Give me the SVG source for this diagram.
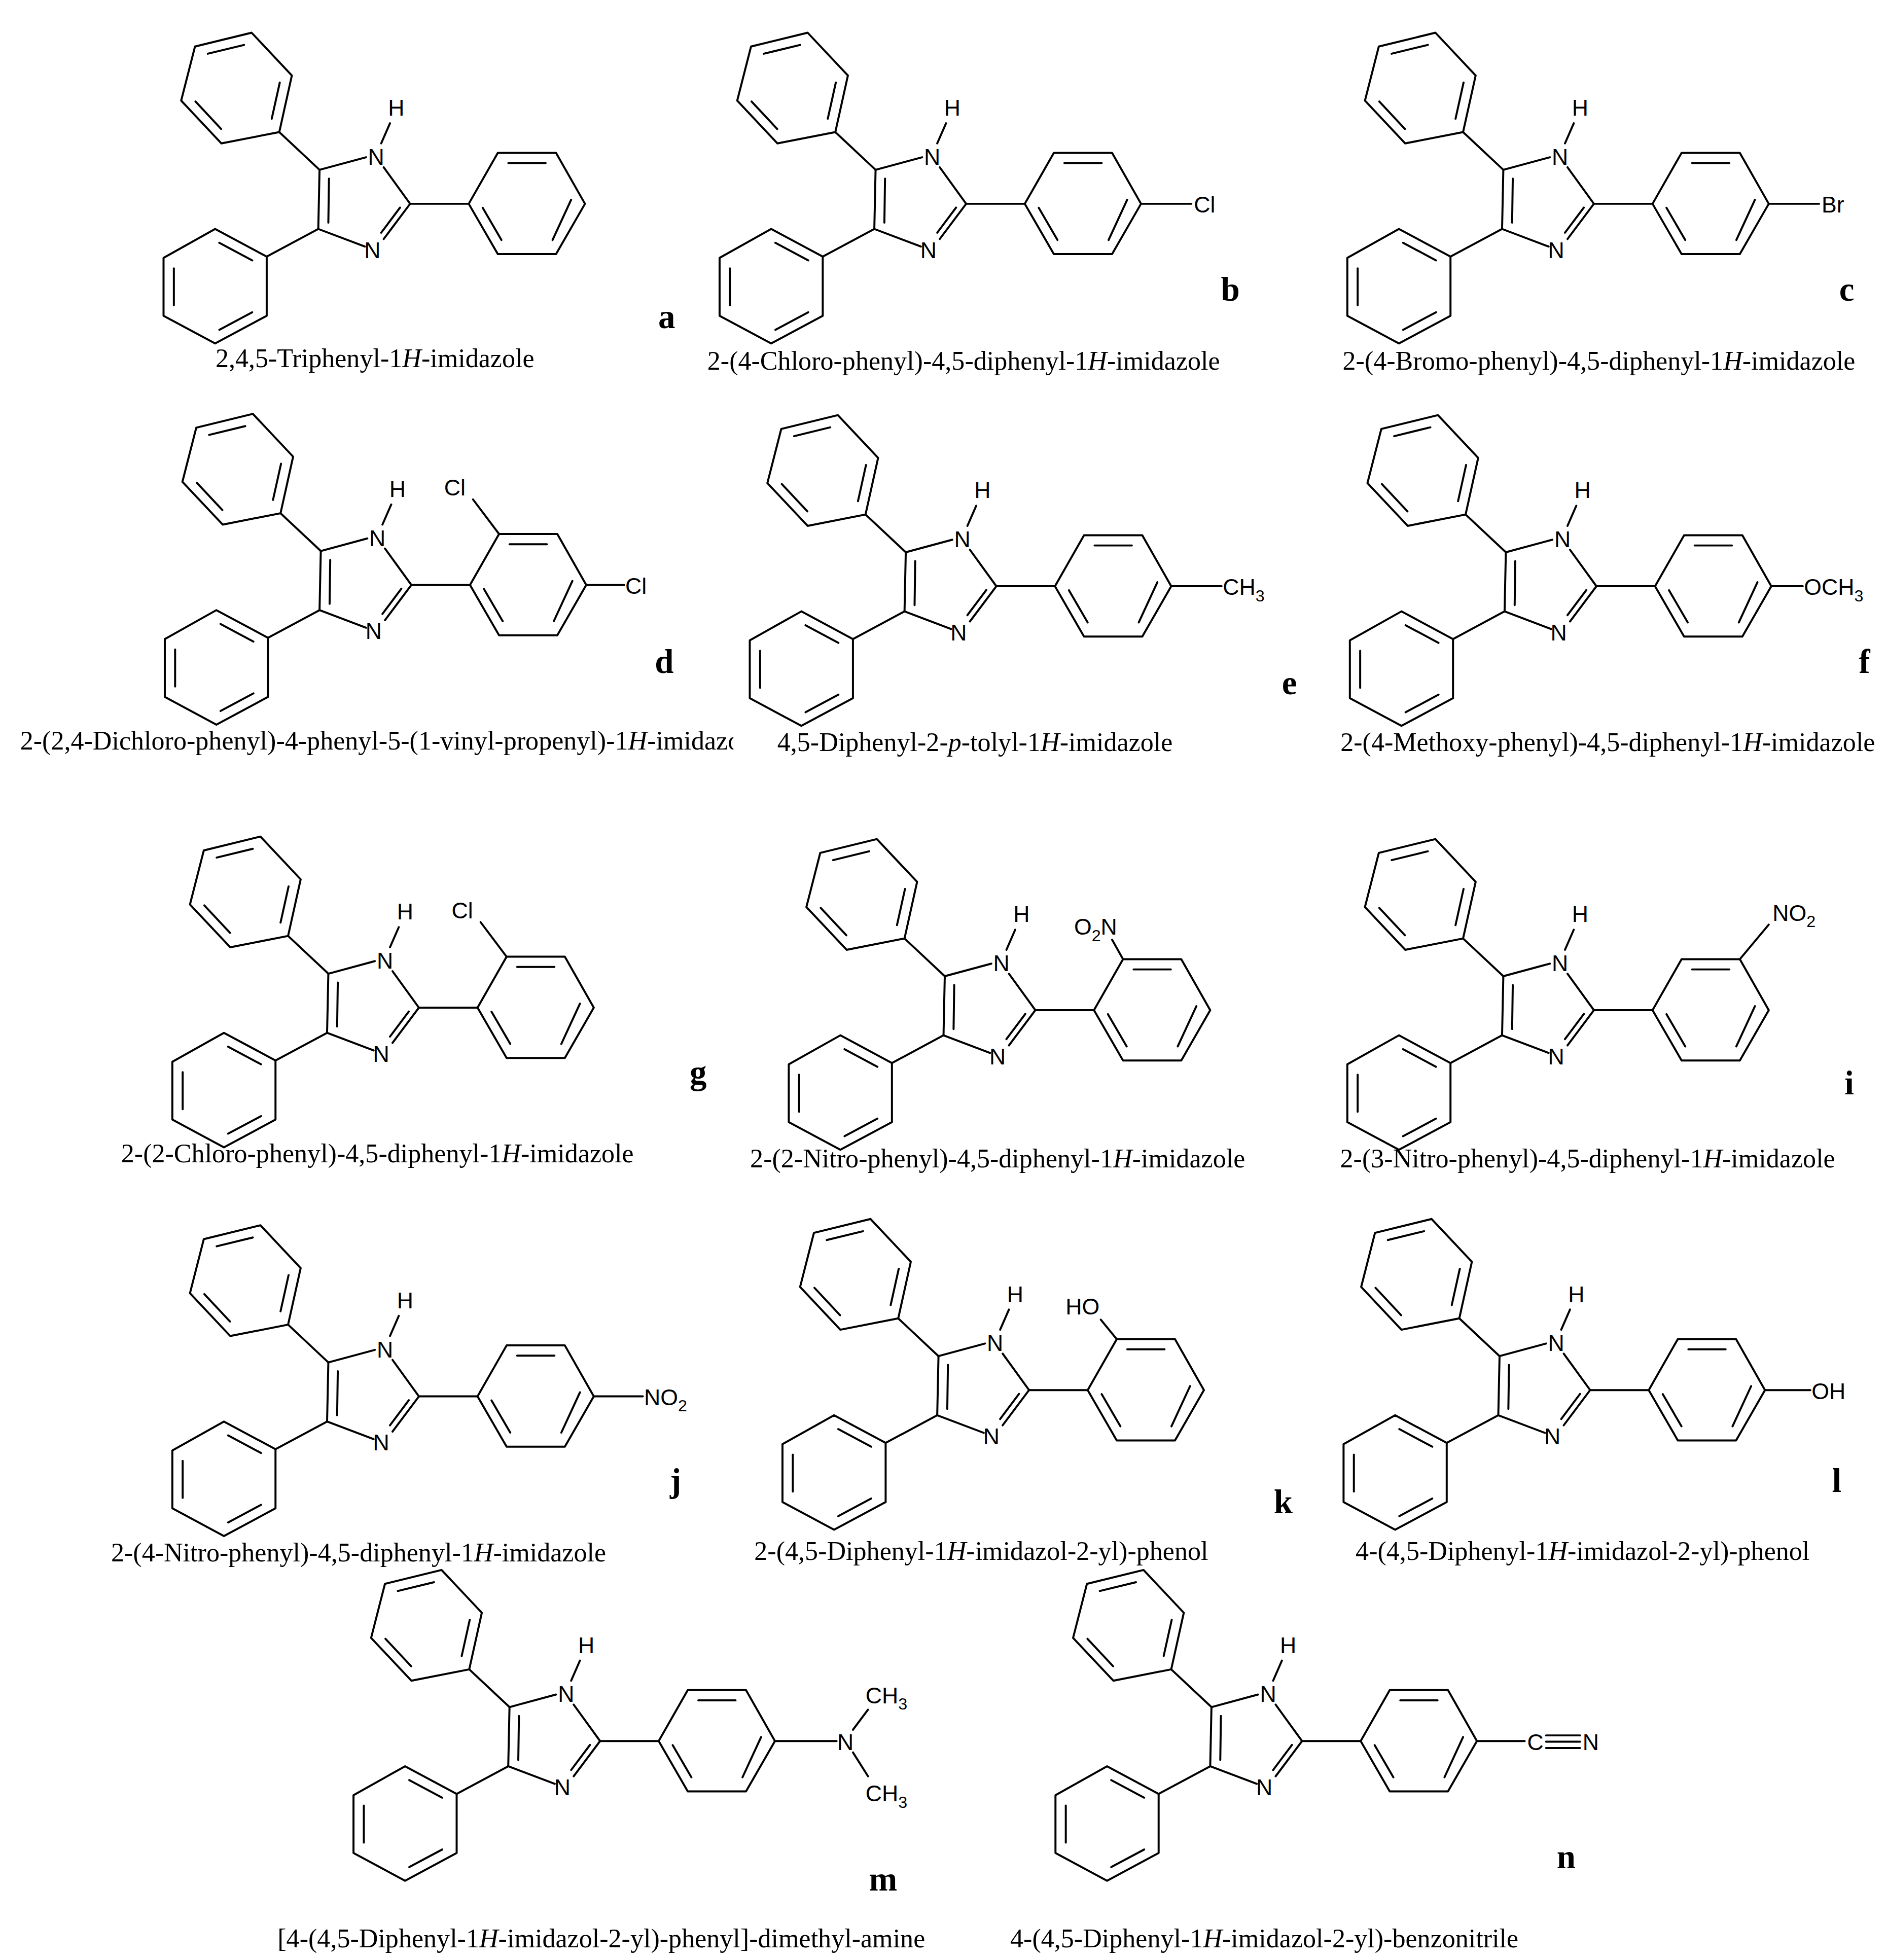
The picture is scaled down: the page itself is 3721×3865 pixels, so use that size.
<svg xmlns="http://www.w3.org/2000/svg" xmlns:xlink="http://www.w3.org/1999/xlink" width="3721" height="3865" viewBox="0 0 3721 3865">
<style>
.b{stroke:#000;stroke-width:1.6;fill:none;stroke-linecap:round;stroke-linejoin:round}
.at{font-family:"Liberation Sans",Arial,sans-serif;font-size:18px;fill:#000}
.sub{font-size:13px}
.nm{font-family:"Liberation Serif","Times New Roman",serif;font-size:21px;fill:#000;text-anchor:middle}
.lt{font-family:"Liberation Serif","Times New Roman",serif;font-size:27px;font-weight:bold;fill:#000;text-anchor:middle}
</style>
<defs>
<g id="core">
<polyline class="b" points="-68,-57 -114,-48 -146,-82 -135,-125 -90,-136 -58,-102 -68,-57"/>
<line class="b" x1="-114.2" y1="-59.5" x2="-134.6" y2="-81.3"/>
<line class="b" x1="-124.8" y1="-119.3" x2="-96" y2="-126.3"/>
<line class="b" x1="-67.6" y1="-96.4" x2="-74" y2="-67.6"/>
<polyline class="b" points="-78,42 -119,20 -160,43 -160,89 -119,111 -78,89 -78,42"/>
<line class="b" x1="-89.5" y1="45" x2="-115.7" y2="31"/>
<line class="b" x1="-151.8" y1="51.3" x2="-151.8" y2="80.7"/>
<line class="b" x1="-115.7" y1="100.2" x2="-89.5" y2="86.2"/>
<polyline class="b" points="82.6,0 105.7,-40.5 152,-40.5 175,0 152,40 105.7,40 82.6,0"/>
<line class="b" x1="114.1" y1="-32.4" x2="143.7" y2="-32.4"/>
<line class="b" x1="164" y1="-3.2" x2="149.2" y2="28.8"/>
<line class="b" x1="108.6" y1="28.8" x2="93.7" y2="3.2"/>
<line class="b" x1="-36" y1="-27" x2="-68" y2="-57"/>
<line class="b" x1="-37" y1="20" x2="-78" y2="42"/>
<line class="b" x1="36" y1="0" x2="82.6" y2="0"/>
<line class="b" x1="-36" y1="-27" x2="1" y2="-37"/>
<line class="b" x1="15" y1="-29" x2="36" y2="0"/>
<line class="b" x1="36" y1="0" x2="15" y2="28"/>
<line class="b" x1="28" y1="3" x2="13" y2="23"/>
<line class="b" x1="0" y1="34" x2="-37" y2="20"/>
<line class="b" x1="-37" y1="20" x2="-36" y2="-27"/>
<line class="b" x1="-29" y1="15" x2="-28.5" y2="-20"/>
<line class="b" x1="13" y1="-48" x2="20" y2="-64"/>
<text class="at" x="9" y="-31" text-anchor="middle">N</text>
<text class="at" x="6" y="43" text-anchor="middle">N</text>
<text class="at" x="25" y="-70" text-anchor="middle">H</text>
</g>
<clipPath id="clipd"><rect x="0" y="570" width="583" height="40"/></clipPath>
</defs>
<rect width="3721" height="3865" fill="#fff"/>
<g transform="scale(2.4807)">
<g id="mol-a" transform="translate(290,162)"><use xlink:href="#core"/></g>
<g id="mol-b" transform="translate(732,162)"><use xlink:href="#core"/>
<line class="b" x1="175" y1="0" x2="215" y2="0"/><text class="at" x="217" y="7">Cl</text></g>
<g id="mol-c" transform="translate(1231,162)"><use xlink:href="#core"/>
<line class="b" x1="175" y1="0" x2="215" y2="0"/><text class="at" x="217" y="7">Br</text></g>
<g id="mol-d" transform="translate(291,465)"><use xlink:href="#core"/>
<line class="b" x1="105.7" y1="-40.5" x2="85" y2="-68"/><text class="at" x="62" y="-71">Cl</text>
<line class="b" x1="175" y1="0" x2="205" y2="0"/><text class="at" x="206" y="7">Cl</text></g>
<g id="mol-e" transform="translate(756,466)"><use xlink:href="#core"/>
<line class="b" x1="175" y1="0" x2="215" y2="0"/><text class="at" x="216" y="7">CH<tspan class="sub" dy="5">3</tspan></text></g>
<g id="mol-f" transform="translate(1233,466)"><use xlink:href="#core"/>
<line class="b" x1="175" y1="0" x2="200" y2="0"/><text class="at" x="201" y="7">OCH<tspan class="sub" dy="5">3</tspan></text></g>
<g id="mol-g" transform="translate(297,801)"><use xlink:href="#core"/>
<line class="b" x1="105.7" y1="-40.5" x2="85" y2="-68"/><text class="at" x="62" y="-71">Cl</text></g>
<g id="mol-h" transform="translate(787,803)"><use xlink:href="#core"/>
<line class="b" x1="105.7" y1="-40.5" x2="97" y2="-56"/><text class="at" x="101" y="-60" text-anchor="end">O<tspan class="sub" dy="5">2</tspan><tspan dy="-5">N</tspan></text></g>
<g id="mol-i" transform="translate(1231,803)"><use xlink:href="#core"/>
<line class="b" x1="152" y1="-40.5" x2="175" y2="-68"/><text class="at" x="178" y="-71">NO<tspan class="sub" dy="5">2</tspan></text></g>
<g id="mol-j" transform="translate(297,1110)"><use xlink:href="#core"/>
<line class="b" x1="175" y1="0" x2="214" y2="0"/><text class="at" x="215" y="7">NO<tspan class="sub" dy="5">2</tspan></text></g>
<g id="mol-k" transform="translate(782,1105)"><use xlink:href="#core"/>
<line class="b" x1="105.7" y1="-40.5" x2="93" y2="-56"/><text class="at" x="92" y="-60" text-anchor="end">HO</text></g>
<g id="mol-l" transform="translate(1228,1105)"><use xlink:href="#core"/>
<line class="b" x1="175" y1="0" x2="211" y2="0"/><text class="at" x="212" y="7">OH</text></g>
<g id="mol-m" transform="translate(441,1384)"><use xlink:href="#core"/>
<line class="b" x1="175" y1="0" x2="224" y2="0"/><text class="at" x="231" y="7" text-anchor="middle">N</text>
<line class="b" x1="237" y1="-9" x2="249" y2="-25"/><text class="at" x="247" y="-30">CH<tspan class="sub" dy="5">3</tspan></text>
<line class="b" x1="237" y1="9" x2="249" y2="28"/><text class="at" x="247" y="48">CH<tspan class="sub" dy="5">3</tspan></text></g>
<g id="mol-n" transform="translate(999,1384)"><use xlink:href="#core"/>
<line class="b" x1="175" y1="0" x2="213" y2="0"/><text class="at" x="215" y="7">C</text>
<line class="b" x1="230" y1="-4.5" x2="257" y2="-4.5"/><line class="b" x1="230" y1="0.5" x2="257" y2="0.5"/><line class="b" x1="230" y1="5.5" x2="257" y2="5.5"/>
<text class="at" x="259" y="7">N</text></g>

<g id="names">
<text class="nm" x="298" y="292">2,4,5-Triphenyl-1<tspan font-style="italic">H</tspan>-imidazole</text>
<text class="nm" x="766" y="294">2-(4-Chloro-phenyl)-4,5-diphenyl-1<tspan font-style="italic">H</tspan>-imidazole</text>
<text class="nm" x="1271" y="294">2-(4-Bromo-phenyl)-4,5-diphenyl-1<tspan font-style="italic">H</tspan>-imidazole</text>
<g clip-path="url(#clipd)"><text class="nm" x="16" y="596" style="text-anchor:start">2-(2,4-Dichloro-phenyl)-4-phenyl-5-(1-vinyl-propenyl)-1<tspan font-style="italic">H</tspan>-imidazole</text></g>
<text class="nm" x="775" y="597">4,5-Diphenyl-2-<tspan font-style="italic">p</tspan>-tolyl-1<tspan font-style="italic">H</tspan>-imidazole</text>
<text class="nm" x="1278" y="597">2-(4-Methoxy-phenyl)-4,5-diphenyl-1<tspan font-style="italic">H</tspan>-imidazole</text>
<text class="nm" x="300" y="924">2-(2-Chloro-phenyl)-4,5-diphenyl-1<tspan font-style="italic">H</tspan>-imidazole</text>
<text class="nm" x="793" y="928">2-(2-Nitro-phenyl)-4,5-diphenyl-1<tspan font-style="italic">H</tspan>-imidazole</text>
<text class="nm" x="1262" y="928">2-(3-Nitro-phenyl)-4,5-diphenyl-1<tspan font-style="italic">H</tspan>-imidazole</text>
<text class="nm" x="285" y="1241">2-(4-Nitro-phenyl)-4,5-diphenyl-1<tspan font-style="italic">H</tspan>-imidazole</text>
<text class="nm" x="780" y="1240">2-(4,5-Diphenyl-1<tspan font-style="italic">H</tspan>-imidazol-2-yl)-phenol</text>
<text class="nm" x="1258" y="1240">4-(4,5-Diphenyl-1<tspan font-style="italic">H</tspan>-imidazol-2-yl)-phenol</text>
<text class="nm" x="478" y="1548">[4-(4,5-Diphenyl-1<tspan font-style="italic">H</tspan>-imidazol-2-yl)-phenyl]-dimethyl-amine</text>
<text class="nm" x="1005" y="1548">4-(4,5-Diphenyl-1<tspan font-style="italic">H</tspan>-imidazol-2-yl)-benzonitrile</text>
</g>
<g id="letters">
<text class="lt" x="530" y="261">a</text>
<text class="lt" x="978" y="239">b</text>
<text class="lt" x="1468" y="239">c</text>
<text class="lt" x="528" y="535">d</text>
<text class="lt" x="1025" y="552">e</text>
<text class="lt" x="1482" y="535">f</text>
<text class="lt" x="555" y="862">g</text>
<text class="lt" x="1470" y="870">i</text>
<text class="lt" x="537" y="1186">j</text>
<text class="lt" x="1020" y="1203">k</text>
<text class="lt" x="1460" y="1186">l</text>
<text class="lt" x="702" y="1503">m</text>
<text class="lt" x="1245" y="1485">n</text>
</g>
</g>
</svg>
